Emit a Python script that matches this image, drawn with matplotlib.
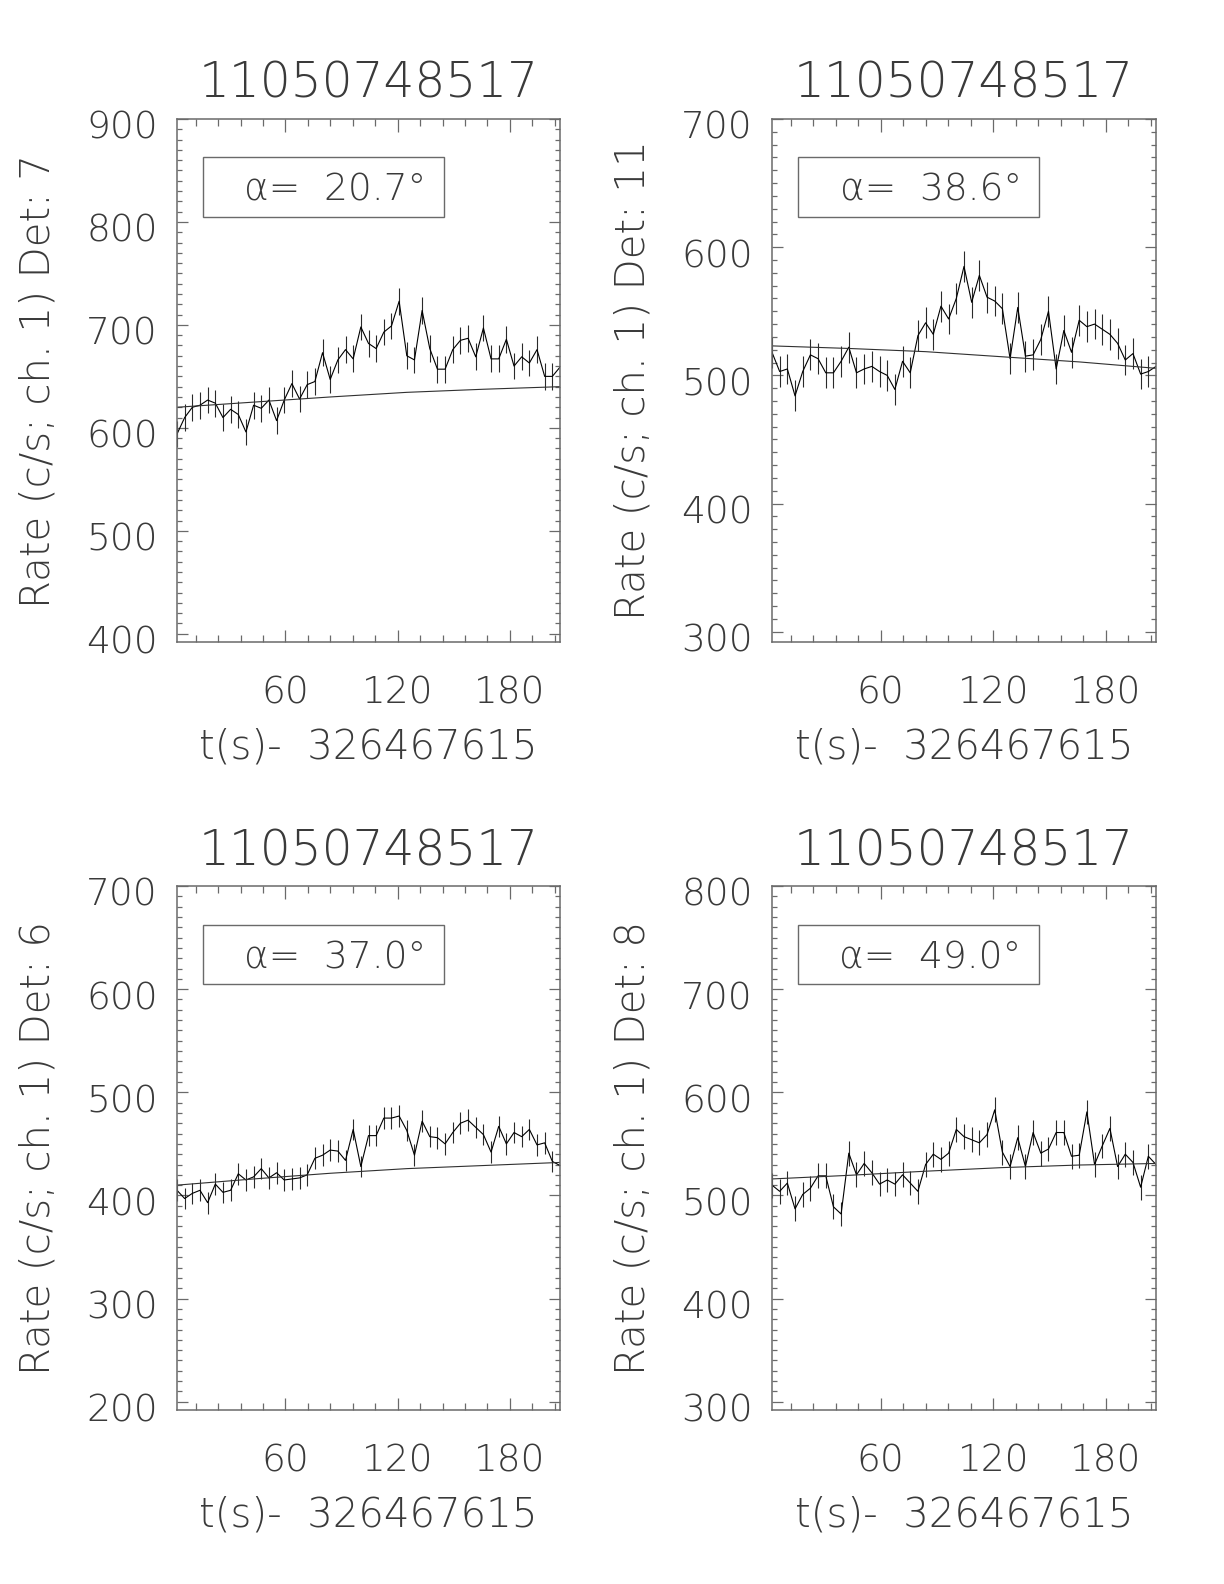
import numpy as np
import matplotlib.pyplot as plt
import matplotlib.transforms as mtransforms
from matplotlib.ticker import MultipleLocator, FixedLocator
from matplotlib.patches import Rectangle

plt.rcParams['font.family'] = ['DejaVu Sans']
plt.rcParams['font.weight'] = 'ultralight'
plt.rcParams['axes.titleweight'] = 'ultralight'
plt.rcParams['axes.labelweight'] = 'ultralight'

# time bins (CSPEC 4.096 s)
t_start = 2.0
bin_width = 4.096
n_bins = 51
t = t_start + bin_width * np.arange(n_bins)

burst_name = '11050748517'
time_label = 't(s)-  326467615'

det_ids = [7, 11, 6, 8]
angles = [20.7, 38.6, 37.0, 49.0]

rate_det7 = [594, 610, 620, 622, 627, 624, 610, 618, 613, 596,
             622, 619, 627, 607, 627, 643, 628, 642, 645, 673,
             647, 666, 676, 667, 698, 682, 677, 693, 699, 723,
             670, 666, 714, 677, 657, 657, 676, 685, 687, 669,
             697, 667, 667, 686, 660, 669, 663, 676, 650, 650, 659]
rate_det11 = [518, 503, 505, 484, 503, 516, 513, 502, 502, 511,
              522, 502, 505, 507, 503, 500, 489, 511, 502, 531,
              541, 532, 554, 544, 560, 585, 557, 578, 561, 558,
              552, 513, 553, 515, 516, 528, 550, 505, 535, 518,
              543, 538, 540, 536, 532, 525, 512, 517, 501, 503, 507]
rate_det6 = [405, 397, 402, 405, 393, 411, 403, 405, 421, 415,
             418, 426, 417, 422, 415, 416, 417, 420, 436, 439,
             444, 443, 434, 464, 428, 458, 458, 475, 475, 477,
             463, 439, 472, 457, 456, 450, 461, 470, 473, 466,
             459, 442, 467, 450, 461, 457, 464, 449, 451, 433, 429]
rate_det8 = [510, 504, 512, 487, 501, 507, 519, 519, 489, 482,
             541, 520, 531, 522, 511, 515, 511, 520, 512, 504,
             530, 540, 535, 541, 564, 557, 554, 551, 559, 583,
             542, 528, 556, 528, 561, 541, 545, 561, 561, 538,
             539, 581, 530, 548, 565, 528, 540, 532, 508, 538, 530]
rates = [rate_det7, rate_det11, rate_det6, rate_det8]
errors = [13, 12, 10.5, 12]

# background fit read at a few bins
fit_idx = [0, 10, 20, 30, 40, 50]
fit_det7 = [620, 625, 630, 634.5, 637.5, 640]
fit_det11 = [523, 521, 518.5, 514.5, 510.5, 505.5]
fit_det6 = [410, 416, 421.5, 426, 429, 432]
fit_det8 = [516, 519.5, 523.5, 527, 529.5, 531]
fits = [fit_det7, fit_det11, fit_det6, fit_det8]

ylims = [(392, 900), (292, 700), (192, 700), (292, 800)]

W, H = 1224, 1584
fig = plt.figure(figsize=(W / 100, H / 100), dpi=100)

boxes = [(177, 119, 560, 642), (772, 119, 1156, 642),
         (177, 886, 560, 1410), (772, 886, 1156, 1410)]

txt = '#3a3a3a'
edge = '#6a6a6a'
label_shift = mtransforms.ScaledTranslation(0, -6 / 100, fig.dpi_scale_trans)

for i in range(4):
    x0, y0, x1, y1 = boxes[i]
    ax = fig.add_axes([x0 / W, 1 - y1 / H, (x1 - x0) / W, (y1 - y0) / H])
    hpx = y1 - y0

    r = np.array(rates[i])
    ax.vlines(t, r - errors[i], r + errors[i], color='#2a2a2a', lw=0.8)
    ax.plot(t, r, color='black', lw=0.8)
    ax.plot(t[fit_idx], fits[i], color='#303030', lw=0.8)

    ax.set_xlim(t[0], t[-1])
    ax.set_ylim(*ylims[i])

    ax.xaxis.set_major_locator(FixedLocator([60, 120, 180]))
    ax.xaxis.set_minor_locator(MultipleLocator(12))
    ax.yaxis.set_major_locator(MultipleLocator(100))
    ax.yaxis.set_minor_locator(MultipleLocator(10))
    ax.tick_params(which='both', direction='in', top=True, right=True,
                   colors=edge, labelcolor=txt, labelsize=27, width=0.9)
    ax.tick_params(axis='x', which='major', length=9, pad=24)
    ax.tick_params(axis='x', which='minor', length=5)
    ax.tick_params(axis='y', which='major', length=8, pad=14)
    ax.tick_params(axis='y', which='minor', length=3.5)
    for s in ax.spines.values():
        s.set_color(edge)
        s.set_linewidth(1.1)
    # IDL puts the y labels a little below their ticks
    for lab in ax.get_yticklabels():
        lab.set_transform(lab.get_transform() + label_shift)

    ax.set_title(burst_name, fontsize=35, color=txt, y=1 + 40 / hpx, pad=0,
                 va='center_baseline')
    ax.set_xlabel(time_label, fontsize=29, color=txt, va='center_baseline')
    ax.xaxis.set_label_coords(0.5, -101 / hpx)
    ax.set_ylabel('Rate (c/s; ch. 1) Det: %d' % det_ids[i], fontsize=29,
                  color=txt, va='center_baseline')
    ax.yaxis.set_label_coords((34 - 177) / 383, 0.5)

    ax.add_patch(Rectangle((0.067, 0.8135), 0.629, 0.113, transform=ax.transAxes,
                           fill=False, edgecolor=edge, lw=1.0))
    ax.text(0.413, 0.87, 'α=  %.1f°' % angles[i], transform=ax.transAxes,
            fontsize=27, color=txt, ha='center', va='center_baseline')

fig.savefig('out.png', dpi=100)
